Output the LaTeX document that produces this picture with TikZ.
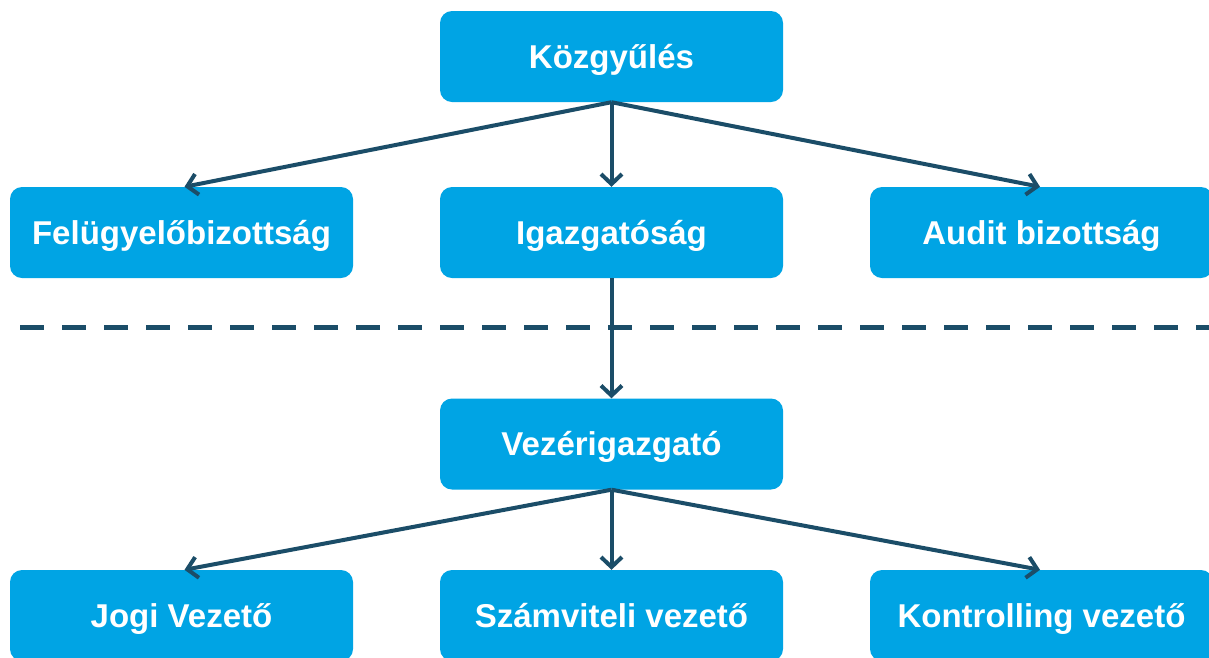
\documentclass[tikz,border=0pt]{standalone}
\usepackage{fontspec}
\setmainfont{Liberation Sans}
\usetikzlibrary{arrows.meta}
\definecolor{boxblue}{HTML}{00A4E4}
\definecolor{linedark}{HTML}{1B4D68}
\tikzset{
  orgbox/.style={fill=boxblue, draw=none, rounded corners=12pt, minimum width=343pt, minimum height=91pt, inner sep=0pt, text=white, font=\fontsize{33}{38}\selectfont\bfseries, text height=23.5pt, text depth=0pt},
  conn/.style={draw=linedark, line width=4pt, -{Straight Barb[length=10pt,width=21pt,line width=4pt]}},
  sep/.style={draw=linedark, line width=5pt, dash pattern=on 24pt off 18pt}
}
\begin{document}
\begin{tikzpicture}[x=1pt,y=-1pt]
\clip (0,0) rectangle (1209,657);
\fill[white] (0,0) rectangle (1209,657);
\node[orgbox] (kgy) at (611.5,56.5) {Közgyűlés};
\node[orgbox] (fb) at (181.5,232.5) {Felügyelőbizottság};
\node[orgbox] (ig) at (611.5,232.5) {Igazgatóság};
\node[orgbox] (ab) at (1041.5,232.5) {Audit bizottság};
\node[orgbox] (vi) at (611.5,444) {Vezérigazgató};
\node[orgbox] (jv) at (181.5,615.5) {Jogi Vezető};
\node[orgbox] (sv) at (611.5,615.5) {Számviteli vezető};
\node[orgbox] (kv) at (1041.5,615.5) {Kontrolling vezető};
\coordinate (d1) at (20,327);
\coordinate (d2) at (1215,327);
\draw[sep] (d1) -- (d2);
\draw[conn] (kgy.south) -- ([xshift=3pt]fb.north);
\draw[conn] (kgy.south) -- (ig.north);
\draw[conn] (kgy.south) -- ([xshift=-1.5pt]ab.north);
\draw[conn] (ig.south) -- (vi.north);
\draw[conn] (vi.south) -- ([xshift=3pt]jv.north);
\draw[conn] (vi.south) -- (sv.north);
\draw[conn] (vi.south) -- ([xshift=-1.5pt]kv.north);
\end{tikzpicture}
\end{document}
